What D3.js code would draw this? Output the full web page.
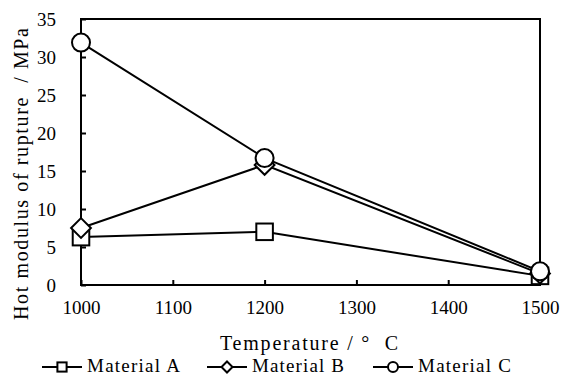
<!DOCTYPE html>
<html><head><meta charset="utf-8">
<script src="https://cdn.jsdelivr.net/npm/d3@7"></script>
<style>body{margin:0;background:#fff}svg{display:block}text{font-family:"Liberation Serif";fill:#000}</style>
</head><body><svg id="c" width="563" height="376"></svg>
<script>
const temperatures = [1000, 1200, 1500];
const materialA = [6.3, 7.0, 1.2];
const materialB = [7.5, 15.8, 1.5];
const materialC = [31.9, 16.7, 1.8];
const seriesNames = ["Material A", "Material B", "Material C"];
const xTicks = [1000, 1100, 1200, 1300, 1400, 1500];
const yTicks = [0, 5, 10, 15, 20, 25, 30, 35];

const FONT = "Liberation Serif";
const svg = d3.select("#c");
const L = 81, R = 540, T = 19, B = 285;
const x = d3.scaleLinear().domain([1000, 1500]).range([L, R]);
const y = d3.scaleLinear().domain([0, 35]).range([B, T]);

svg.append("rect").attr("x", L).attr("y", T).attr("width", R - L).attr("height", B - T)
  .attr("fill", "none").attr("stroke", "#000").attr("stroke-width", 2);

const fs = 19;
const yAxis = svg.append("g").attr("transform", `translate(${L},0)`)
  .call(d3.axisLeft(y).tickValues(yTicks).tickFormat(d3.format("d")).tickSizeInner(-5).tickSizeOuter(0).tickPadding(25));
const xAxis = svg.append("g").attr("transform", `translate(0,${B})`)
  .call(d3.axisBottom(x).tickValues(xTicks).tickFormat(d3.format("d")).tickSizeInner(-5).tickSizeOuter(0).tickPadding(16));
[yAxis, xAxis].forEach(g => {
  g.attr("font-family", FONT);
  g.select(".domain").remove();
  g.selectAll("line").attr("stroke", "#000").attr("stroke-width", 2);
  g.selectAll("text").attr("font-family", FONT).attr("font-size", fs).attr("fill", "#000");
});

svg.append("text").attr("transform", `translate(28,174) rotate(-90)`)
  .attr("font-family", FONT)
  .attr("text-anchor", "middle").attr("font-size", 20).attr("xml:space", "preserve")
  .attr("textLength", 292).attr("lengthAdjust", "spacing")
  .text("Hot modulus of rupture  / MPa");
svg.append("text").attr("x", 309).attr("y", 350).attr("text-anchor", "middle")
  .attr("font-family", FONT)
  .attr("font-size", 20).attr("xml:space", "preserve")
  .attr("textLength", 178).attr("lengthAdjust", "spacing")
  .text("Temperature / °  C");

const data = [materialA, materialB, materialC];
const shapes = ["square", "diamond", "circle"];

function marker(g, shape, cx, cy, s) {
  if (shape === "square") {
    g.append("rect").attr("x", cx - s * 0.92).attr("y", cy - s * 0.92).attr("width", s * 1.84).attr("height", s * 1.84)
      .attr("fill", "#fff").attr("stroke", "#000").attr("stroke-width", 2);
  } else if (shape === "diamond") {
    const d = s * 1.1;
    g.append("path").attr("d", `M${cx},${cy - d}L${cx + d},${cy}L${cx},${cy + d}L${cx - d},${cy}Z`)
      .attr("fill", "#fff").attr("stroke", "#000").attr("stroke-width", 2);
  } else {
    g.append("circle").attr("cx", cx).attr("cy", cy).attr("r", s)
      .attr("fill", "#fff").attr("stroke", "#000").attr("stroke-width", 2);
  }
}

const line = d3.line().x((d, i) => x(temperatures[i])).y(d => y(d));
data.forEach((vals, k) => {
  const g = svg.append("g");
  g.append("path").attr("d", line(vals)).attr("fill", "none").attr("stroke", "#000").attr("stroke-width", 2);
  vals.forEach((v, i) => marker(g, shapes[k], x(temperatures[i]), y(v), 9));
});

// legend
const legX = [42, 207, 373];
const legY = 367;
const legW = [93, 92, 93];
seriesNames.forEach((n, k) => {
  const g = svg.append("g");
  g.append("line").attr("x1", legX[k]).attr("x2", legX[k] + 40).attr("y1", legY).attr("y2", legY)
    .attr("stroke", "#000").attr("stroke-width", 2);
  marker(g, shapes[k], legX[k] + 20, legY, 5);
  g.append("text").attr("x", legX[k] + 45).attr("y", 372).attr("font-size", 19)
    .attr("font-family", FONT)
    .attr("textLength", legW[k]).attr("lengthAdjust", "spacing").text(n);
});
</script></body></html>
